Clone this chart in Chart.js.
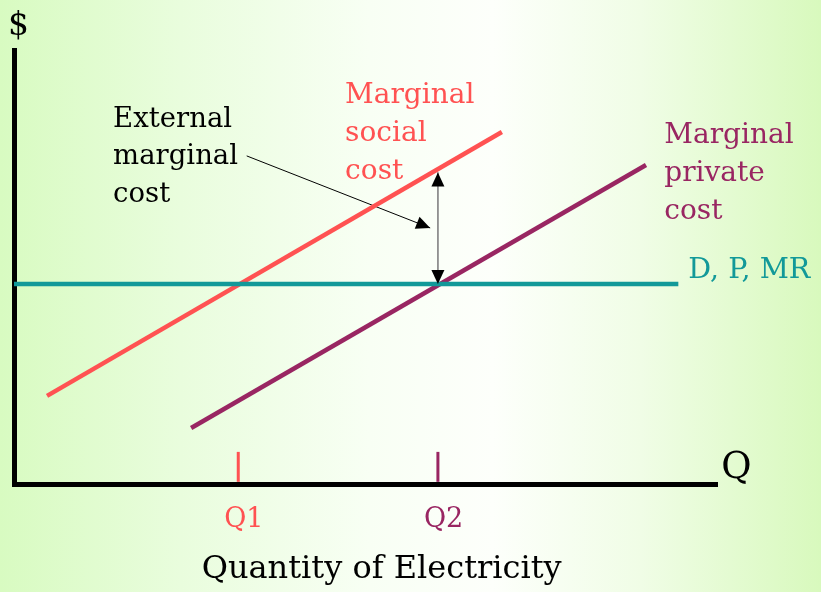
<!DOCTYPE html>
<html>
<head>
<meta charset="utf-8">
<script src="https://cdn.jsdelivr.net/npm/chart.js@4.4.1/dist/chart.umd.min.js"></script>
<style>
  html, body { margin: 0; padding: 0; }
  body {
    width: 821px; height: 592px; overflow: hidden;
    background: linear-gradient(to right, #d8fbc1 0%, #e9fddd 22%, #f8fff4 45%, #fdfffb 60%, #f0fde6 78%, #d8f9bd 100%);
  }
  #wrap { position: relative; width: 821px; height: 592px; }
</style>
</head>
<body>
<div id="wrap"><canvas id="c" width="821" height="592"></canvas></div>
<script>
// ---- Data (axis units: quantity 0..100, price 0..100) ----
const quantityRange = [0, 100];
const priceRange = [0, 100];
const Q1 = 31.9;
const Q2 = 60.3;
const priceLevel = 46.1;
const demandQ = [0, 94.5];
const demandP = [priceLevel, priceLevel];
const socialCostQ = [4.7, 69.4];
const socialCostP = [20.3, 81.1];
const privateCostQ = [25.2, 89.9];
const privateCostP = [12.9, 73.5];
const tickMarkP = [0.5, 7.4];
const externalCostP = [71.8, priceLevel];   // gap at Q2 between MSC and MPC
const leaderQ = [33.1, 59.2];
const leaderP = [75.6, 59.0];
const quantityLabels = ['Q1', 'Q2'];

const RED = '#ff5252';
const PURPLE = '#992662';
const TEAL = '#129999';
const FONT = '"DejaVu Serif", "Liberation Serif", serif';

function pts(xs, ys) { return xs.map((x, i) => ({ x: x, y: ys[i] })); }

const labels = [
  { lines: ['$'], x: -0.85, y: 103.4, size: 33, color: '#000', align: 'left' },
  { lines: ['External', 'marginal', 'cost'], x: 14.1, y: 82.3, size: 27.5, lh: 37.5, color: '#000', align: 'left' },
  { lines: ['Marginal', 'social', 'cost'], x: 47.1, y: 87.8, size: 28, lh: 38, color: RED, align: 'left' },
  { lines: ['Marginal', 'private', 'cost'], x: 92.5, y: 78.6, size: 28, lh: 38, color: PURPLE, align: 'left' },
  { lines: ['D, P, MR'], x: 95.9, y: 47.5, size: 28.5, color: TEAL, align: 'left' },
  { lines: ['Q'], x: 100.6, y: 1.4, size: 37, color: '#000', align: 'left' },
  { lines: [quantityLabels[0]], x: Q1 + 0.8, y: -9.9, size: 27, color: RED, align: 'center' },
  { lines: [quantityLabels[1]], x: Q2 + 0.8, y: -9.9, size: 27, color: PURPLE, align: 'center' },
  { lines: ['Quantity of Electricity'], x: 52.3, y: -21.7, size: 32, color: '#000', align: 'center' }
];

function arrowHead(ctx, tipX, tipY, fromX, fromY, len, half) {
  const a = Math.atan2(tipY - fromY, tipX - fromX);
  ctx.save();
  ctx.translate(tipX, tipY);
  ctx.rotate(a);
  ctx.beginPath();
  ctx.moveTo(0, 0);
  ctx.lineTo(-len, -half);
  ctx.lineTo(-len, half);
  ctx.closePath();
  ctx.fillStyle = '#000';
  ctx.fill();
  ctx.restore();
}

const annotate = {
  id: 'annotate',
  afterDatasetsDraw(chart) {
    const ctx = chart.ctx;
    const xs = chart.scales.x, ys = chart.scales.y;
    const ax = xs.getPixelForValue(Q2);
    const aTop = ys.getPixelForValue(externalCostP[0]);
    const aBot = ys.getPixelForValue(externalCostP[1]);
    arrowHead(ctx, ax, aTop, ax, aBot, 14, 6.5);
    arrowHead(ctx, ax, aBot, ax, aTop, 14, 6.5);
    const lx0 = xs.getPixelForValue(leaderQ[0]), ly0 = ys.getPixelForValue(leaderP[0]);
    const lx1 = xs.getPixelForValue(leaderQ[1]), ly1 = ys.getPixelForValue(leaderP[1]);
    arrowHead(ctx, lx1, ly1, lx0, ly0, 14, 6.5);
    ctx.save();
    ctx.textBaseline = 'alphabetic';
    labels.forEach(l => {
      ctx.font = l.size + 'px ' + FONT;
      ctx.fillStyle = l.color;
      ctx.textAlign = l.align;
      const px = xs.getPixelForValue(l.x);
      const py = ys.getPixelForValue(l.y);
      l.lines.forEach((s, i) => ctx.fillText(s, px, py + i * (l.lh || 0)));
    });
    ctx.restore();
  }
};

const lineDs = (data, color, width) => ({
  data: data, borderColor: color, borderWidth: width, pointRadius: 0,
  showLine: true, fill: false, borderCapStyle: 'butt', clip: false, tension: 0
});

new Chart(document.getElementById('c'), {
  type: 'scatter',
  data: {
    datasets: [
      lineDs(pts([Q1, Q1], tickMarkP), RED, 3),
      lineDs(pts([Q2, Q2], tickMarkP), PURPLE, 3),
      lineDs(pts(demandQ, demandP), TEAL, 4.5),
      lineDs(pts(socialCostQ, socialCostP), RED, 4.5),
      lineDs(pts(privateCostQ, privateCostP), PURPLE, 4.5),
      lineDs(pts([Q2, Q2], externalCostP), '#8a8a8a', 1),
      lineDs(pts(leaderQ, leaderP), '#000', 1)
    ]
  },
  options: {
    responsive: false,
    animation: false,
    events: [],
    layout: { padding: { left: 14, right: 104, top: 50, bottom: 108 } },
    plugins: { legend: { display: false }, tooltip: { enabled: false }, title: { display: false } },
    scales: {
      x: {
        type: 'linear', min: quantityRange[0], max: quantityRange[1],
        grid: { display: false, drawTicks: false },
        ticks: { display: false },
        border: { display: true, color: '#000', width: 5 }
      },
      y: {
        type: 'linear', min: priceRange[0], max: priceRange[1],
        grid: { display: false, drawTicks: false },
        ticks: { display: false },
        border: { display: true, color: '#000', width: 5 }
      }
    }
  },
  plugins: [annotate]
});
</script>
</body>
</html>
